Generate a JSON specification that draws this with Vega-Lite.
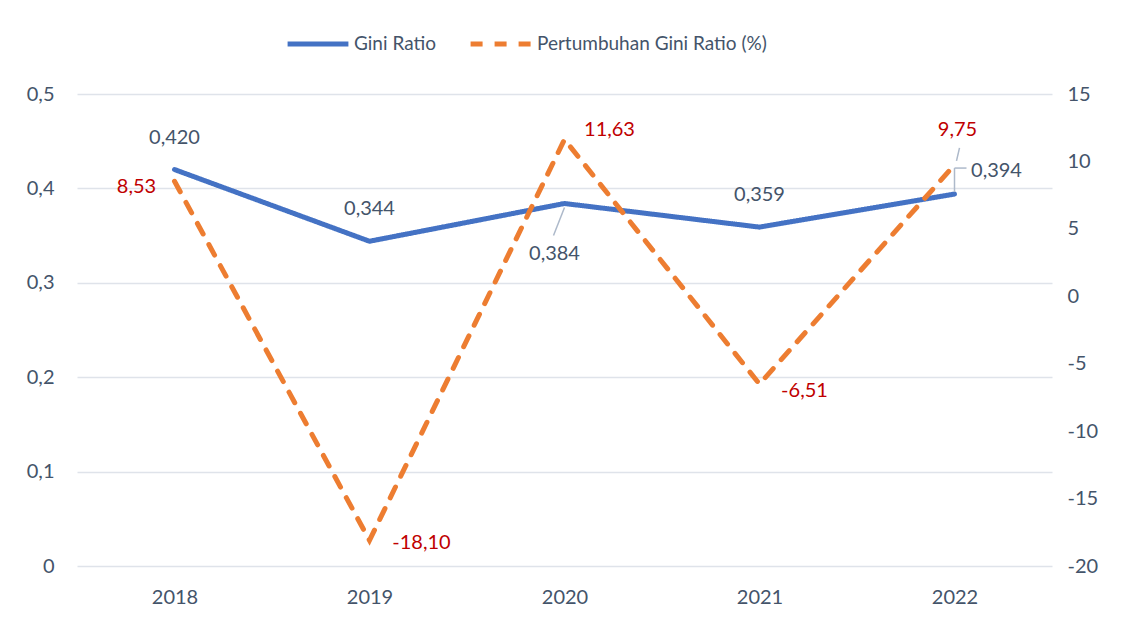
{
  "$schema": "https://vega.github.io/schema/vega-lite/v6.json",
  "width": 975,
  "height": 472,
  "autosize": {"type": "none"},
  "padding": {"left": 77, "top": 94, "right": 69, "bottom": 59},
  "background": "white",
  "config": {
    "locale": {"number": {"decimal": ",", "thousands": ".", "grouping": [3], "currency": ["", ""], "minus": "-"}},
    "font": "Lato",
    "view": {"stroke": null},
    "axis": {"labelFont": "Lato", "labelFontSize": 20, "labelColor": "#44546a", "domain": false, "ticks": false, "gridColor": "#dfe3ea", "gridWidth": 1.5},
    "text": {"font": "Lato", "fontSize": 20}
  },
  "data": {
    "values": [
      {"year": "2018", "gini": 0.420, "growth": 8.53},
      {"year": "2019", "gini": 0.344, "growth": -18.10},
      {"year": "2020", "gini": 0.384, "growth": 11.63},
      {"year": "2021", "gini": 0.359, "growth": -6.51},
      {"year": "2022", "gini": 0.394, "growth": 9.75}
    ]
  },
  "encoding": {
    "x": {"field": "year", "type": "ordinal", "scale": {"type": "point", "padding": 0.5}, "axis": {"title": null, "labelAngle": 0, "labelPadding": 21, "grid": false}}
  },
  "layer": [
    {
      "encoding": {
        "y": {"field": "gini", "type": "quantitative", "scale": {"domain": [0, 0.5], "nice": false}, "axis": {"title": null, "orient": "left", "values": [0, 0.1, 0.2, 0.3, 0.4, 0.5], "format": ".1~f", "labelPadding": 23, "grid": true}}
      },
      "layer": [
        {
          "mark": {"type": "line", "strokeWidth": 5, "strokeCap": "round", "strokeJoin": "miter"},
          "encoding": {
            "color": {"datum": "Gini Ratio", "scale": {"domain": ["Gini Ratio", "Pertumbuhan Gini Ratio (%)"], "range": ["#4472c4", "#ed7d31"]},
              "legend": {"title": null, "orient": "none", "direction": "horizontal", "legendX": 208, "legendY": -83, "symbolType": "stroke", "symbolSize": 3700, "symbolStrokeWidth": 5, "labelFont": "Lato", "labelFontSize": 19, "labelColor": "#44546a", "labelOffset": 3, "labelLimit": 400, "columnPadding": 24}},
            "strokeDash": {"datum": "Gini Ratio", "scale": {"domain": ["Gini Ratio", "Pertumbuhan Gini Ratio (%)"], "range": [[1, 0], [12, 12]]}, "legend": null}
          }
        },
        {
          "transform": [{"filter": "datum.year == '2018' || datum.year == '2019' || datum.year == '2021'"}],
          "mark": {"type": "text", "dy": -32, "color": "#44546a"},
          "encoding": {"text": {"field": "gini", "format": ".3f"}}
        },
        {
          "transform": [{"filter": "datum.year == '2020'"}],
          "mark": {"type": "text", "dx": -10, "dy": 50, "color": "#44546a"},
          "encoding": {"text": {"field": "gini", "format": ".3f"}}
        },
        {
          "transform": [{"filter": "datum.year == '2022'"}],
          "mark": {"type": "text", "dx": 42, "dy": -23, "color": "#44546a"},
          "encoding": {"text": {"field": "gini", "format": ".3f"}}
        },
        {
          "transform": [{"filter": "datum.year == '2020'"}],
          "mark": {"type": "rule", "color": "#adb9ca", "strokeWidth": 1.5, "yOffset": 4, "x2Offset": -11, "y2Offset": 32},
          "encoding": {"x2": {"field": "year"}, "y2": {"field": "gini"}}
        },
        {
          "transform": [{"filter": "datum.year == '2022'"}],
          "mark": {"type": "rule", "color": "#adb9ca", "strokeWidth": 1.5, "yOffset": -2, "y2Offset": -26},
          "encoding": {"x2": {"field": "year"}, "y2": {"field": "gini"}}
        },
        {
          "transform": [{"filter": "datum.year == '2022'"}],
          "mark": {"type": "rule", "color": "#adb9ca", "strokeWidth": 1.5, "yOffset": -26, "x2Offset": 12, "y2Offset": -26},
          "encoding": {"x2": {"field": "year"}, "y2": {"field": "gini"}}
        }
      ]
    },
    {
      "encoding": {
        "y": {"field": "growth", "type": "quantitative", "scale": {"domain": [-20, 15], "nice": false}, "axis": {"title": null, "orient": "right", "values": [-20, -15, -10, -5, 0, 5, 10, 15], "format": "d", "labelPadding": 15, "grid": false}}
      },
      "layer": [
        {
          "mark": {"type": "line", "strokeWidth": 5, "strokeCap": "round"},
          "encoding": {
            "color": {"datum": "Pertumbuhan Gini Ratio (%)"},
            "strokeDash": {"datum": "Pertumbuhan Gini Ratio (%)"}
          }
        },
        {
          "transform": [{"filter": "datum.year == '2018'"}],
          "mark": {"type": "text", "dx": -38, "dy": 6, "color": "#c00000"},
          "encoding": {"text": {"field": "growth", "format": ".2f"}}
        },
        {
          "transform": [{"filter": "datum.year == '2019'"}],
          "mark": {"type": "text", "dx": 52, "dy": 3, "color": "#c00000"},
          "encoding": {"text": {"field": "growth", "format": ".2f"}}
        },
        {
          "transform": [{"filter": "datum.year == '2020'"}],
          "mark": {"type": "text", "dx": 45, "dy": -9, "color": "#c00000"},
          "encoding": {"text": {"field": "growth", "format": ".2f"}}
        },
        {
          "transform": [{"filter": "datum.year == '2021'"}],
          "mark": {"type": "text", "dx": 45, "dy": 7, "color": "#c00000"},
          "encoding": {"text": {"field": "growth", "format": ".2f"}}
        },
        {
          "transform": [{"filter": "datum.year == '2022'"}],
          "mark": {"type": "text", "dx": 3, "dy": -35, "color": "#c00000"},
          "encoding": {"text": {"field": "growth", "format": ".2f"}}
        },
        {
          "transform": [{"filter": "datum.year == '2022'"}],
          "mark": {"type": "rule", "color": "#adb9ca", "strokeWidth": 1.5, "xOffset": 2, "yOffset": -4, "x2Offset": 5, "y2Offset": -17},
          "encoding": {"x2": {"field": "year"}, "y2": {"field": "growth"}}
        }
      ]
    }
  ],
  "resolve": {"scale": {"y": "independent"}}
}
